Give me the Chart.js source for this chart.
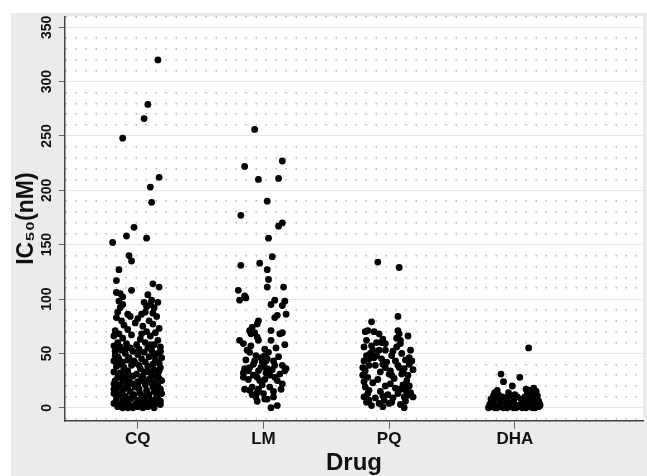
<!DOCTYPE html>
<html>
<head>
<meta charset="utf-8">
<script src="https://cdn.jsdelivr.net/npm/chart.js@4.4.1/dist/chart.umd.min.js"></script>
<style>
  html, body { margin: 0; padding: 0; background: #fff; overflow: hidden; }
  .chart-wrapper { position: absolute; left: 11px; top: 13px; width: 636px; height: 463px; background: #ebebeb; overflow: hidden; }
  .chart-wrapper canvas { position: absolute; left: 0; top: -5px; }
</style>
</head>
<body>
<div class="chart-wrapper"><canvas id="scatterChart" width="636" height="471"></canvas></div>
<script>
// Drug names along the x-axis
const drugs = ["CQ", "LM", "PQ", "DHA"];

// IC50 values (nM), with the horizontal jitter of each dot
const cqValues = [
  320, 279, 266, 248, 212, 203, 189, 166, 158, 156, 152, 140, 135, 127, 117, 114, 111, 108, 106, 104, 105, 102, 99,
  98, 95, 92, 97, 93, 95, 92, 88, 87, 86, 88, 86, 97,
  83, 80, 84, 82, 80, 84, 76, 78, 75, 77, 73, 71, 72, 70, 68,
  66, 64, 67, 63, 66, 62, 60, 59, 58, 60, 58, 56, 56, 55, 55, 57, 68, 69,
  52, 53, 50, 52, 49, 51, 53, 50, 47, 46, 45, 47, 44, 46, 43, 42, 41, 42, 40, 41, 40, 44, 54, 52,
  38, 37, 39, 36, 38, 35, 37, 33, 32, 34, 31, 33, 30, 31, 28, 27, 29, 27, 26, 28, 25, 25, 24, 24, 34, 30,
  22, 21, 20, 22, 21, 23, 20, 17, 16, 15, 17, 16, 15, 17, 13, 12, 11, 12, 11, 12, 10, 18, 19, 13,
  8, 7, 8, 7, 6, 7, 8, 4, 3, 4, 3, 4, 3, 4, 3, 0, 0, 0, 1, 0, 1, 0, 1,
  48, 45, 36, 30, 43, 39, 29, 33, 49, 27, 19, 25, 9, 13, 5, 2, 6, 17, 6, 19, 24, 4, 14, 2, 2, 21, 9, 22, 55, 58
];
const cqJitter = [
  0.16, 0.08, 0.05, -0.12, 0.17, 0.10, 0.11, -0.03, -0.09, 0.07, -0.20, -0.07, -0.05, -0.15, -0.17, 0.12, 0.17, -0.05, -0.17, 0.08, -0.14, -0.12, 0.11,
  -0.15, -0.12, -0.14, 0.05, 0.07, 0.10, 0.13, 0.06, 0.12, 0.03, -0.16, -0.08, 0.16,
  -0.17, -0.13, -0.06, 0.00, 0.09, 0.15, -0.11, -0.02, 0.04, 0.12, 0.17, -0.18, -0.08, 0.07, -0.15,
  -0.19, -0.12, -0.05, 0.02, 0.10, 0.16, -0.16, -0.09, -0.01, 0.06, 0.13, 0.18, -0.14, -0.06, 0.08, -0.19, 0.03, 0.14,
  -0.18, -0.13, -0.10, -0.04, 0.00, 0.05, 0.11, 0.16, -0.16, -0.07, 0.03, 0.09, 0.14, 0.19, -0.19, -0.12, -0.02, 0.06, 0.12, 0.17, -0.15, -0.08, 0.01, 0.18,
  -0.17, -0.11, -0.05, 0.02, 0.08, 0.13, 0.18, -0.19, -0.14, -0.08, -0.01, 0.05, 0.11, 0.16, -0.16, -0.10, -0.04, 0.03, 0.09, 0.14, 0.19, -0.18, -0.07, 0.00, 0.17, -0.12,
  -0.19, -0.14, -0.09, -0.04, 0.06, 0.11, 0.16, -0.17, -0.12, -0.06, 0.01, 0.07, 0.13, 0.18, -0.19, -0.15, -0.10, -0.03, 0.04, 0.09, 0.15, -0.08, 0.12, 0.19,
  -0.17, -0.12, -0.06, 0.00, 0.05, 0.11, 0.16, -0.19, -0.14, -0.09, -0.02, 0.03, 0.08, 0.14, 0.18, -0.12, -0.08, -0.04, 0.00, 0.04, 0.08, 0.13, -0.16,
  -0.18, -0.15, -0.11, -0.07, -0.03, 0.01, 0.04, 0.09, 0.13, 0.17, -0.16, -0.12, -0.05, 0.02, 0.07, 0.12, 0.18, -0.19, -0.10, -0.02, 0.05, 0.10, 0.15, -0.13, -0.06, 0.00, 0.06, 0.14, -0.09, 0.10
];

const lmValues = [
  256, 222, 227, 210, 211, 190, 177, 170, 167, 156, 139, 131, 133, 127, 118, 111, 111, 108, 103, 101, 99, 99, 98,
  95, 94, 85, 86, 83,
  80, 77, 74, 71, 68, 69, 65, 62, 62, 59, 71, 68, 69, 62, 58, 54, 51,
  46, 48, 45, 42, 43, 39, 43, 40,
  36, 34, 32, 37, 34, 37, 32, 36, 39, 34, 36,
  28, 25, 26, 30, 28, 25,
  17, 19, 16, 17, 14, 22, 17,
  6, 8, 8, 10, 0, 2,
  53, 57, 48, 40, 51, 55, 44, 30, 43, 35, 26, 21, 19, 31, 12, 13, 28, 47, 10, 15
];
const lmJitter = [
  -0.07, -0.15, 0.15, -0.04, 0.12, 0.03, -0.18, 0.15, 0.12, 0.04, 0.07, -0.18, -0.03, 0.03, 0.04, 0.03, 0.16, -0.20, -0.15, -0.14, -0.19, 0.09, 0.17,
  0.06, 0.15, 0.11, 0.18, 0.09,
  -0.04, -0.05, -0.09, -0.11, -0.10, -0.07, -0.05, -0.04, -0.19, -0.16, 0.06, 0.13, 0.15, 0.06, 0.17, 0.01, -0.11,
  -0.02, 0.01, 0.03, -0.01, 0.08, 0.09, -0.07, -0.08,
  -0.15, -0.12, -0.16, -0.11, -0.04, -0.02, 0.02, 0.03, 0.15, 0.17, 0.18,
  -0.05, -0.03, 0.01, 0.05, 0.09, 0.11,
  -0.15, -0.09, -0.11, -0.04, -0.05, 0.15, 0.14,
  -0.05, 0.01, 0.03, 0.08, 0.06, 0.11,
  -0.13, -0.10, -0.06, 0.00, 0.04, 0.10, -0.14, -0.08, 0.02, 0.07, -0.12, -0.01, 0.05, 0.13, -0.09, 0.00, -0.16, 0.12, -0.06, 0.08
];

const pqValues = [
  134, 129, 84, 79, 71, 70, 70, 68, 71, 68, 62, 59, 63, 60, 59,
  56, 53, 53, 53, 50, 46, 53, 46, 43, 45, 48, 43, 39,
  37, 34, 39, 40, 37, 34, 37, 36,
  30, 28, 24, 31, 30, 33, 30, 40,
  19, 16, 20, 22, 17, 16, 14, 11,
  10, 7, 11, 7, 4, 5, 10, 10,
  1, 0, 4,
  62, 57, 48, 45, 42, 52, 56, 50, 44, 43, 48, 39, 33, 27, 31, 25, 35, 23, 26, 18, 21, 20, 13, 9, 12, 13, 6, 2, 15, 9, 3, 5, 64, 66, 60
];
const pqJitter = [
  -0.09, 0.08, 0.07, -0.14, -0.17, -0.19, -0.12, -0.08, 0.07, 0.08, 0.09, 0.09, -0.05, -0.06, -0.03,
  -0.20, -0.13, -0.08, -0.03, -0.15, -0.12, 0.17, 0.16, -0.20, -0.16, 0.02, 0.05, 0.07,
  -0.21, -0.19, -0.16, -0.05, -0.03, 0.01, 0.08, 0.12,
  -0.21, -0.17, -0.20, 0.00, 0.02, 0.11, 0.15, 0.16,
  -0.19, -0.16, -0.03, 0.01, 0.09, 0.13, 0.17, 0.14,
  -0.20, -0.16, -0.05, -0.04, 0.00, 0.02, 0.12, 0.19,
  -0.05, 0.12, -0.08,
  -0.18, -0.14, -0.10, -0.06, -0.02, 0.03, 0.06, 0.10, 0.13, 0.18, -0.18, -0.11, -0.07, 0.04, 0.10, 0.14, 0.19, -0.13, -0.09, 0.05, 0.11, 0.16, -0.17, -0.11, -0.01, 0.07, 0.13, -0.14, -0.07, 0.03, 0.09, -0.18, 0.06, 0.15, -0.10
];

const dhaValues = [
  55, 31, 28, 24, 20, 16, 13, 14, 17, 16, 13,
  0, 1, 0, 0, 1, 0, 0, 1, 0, 0, 1, 0, 0, 1, 0, 0, 1,
  3, 4, 2, 3, 4, 3, 2, 4, 3, 2, 3, 4, 2, 3, 4, 3, 2,
  8, 11, 9, 12, 6, 7, 14, 10,
  9, 11, 7, 10, 8, 6, 12,
  10, 13, 9, 12, 8, 11, 6, 15, 18, 16, 7, 3, 5
];
const dhaJitter = [
  0.11, -0.11, 0.04, -0.09, -0.02, -0.14, -0.15, -0.05, 0.09, 0.13, 0.16,
  -0.21, -0.19, -0.16, -0.14, -0.11, -0.09, -0.06, -0.04, -0.01, 0.01, 0.04, 0.06, 0.09, 0.11, 0.14, 0.16, 0.19,
  -0.20, -0.17, -0.15, -0.12, -0.10, -0.07, -0.05, -0.02, 0.00, 0.03, 0.05, 0.08, 0.10, 0.13, 0.15, 0.18, 0.20,
  -0.19, -0.17, -0.15, -0.13, -0.18, -0.12, -0.16, -0.10,
  -0.07, -0.04, -0.01, 0.02, 0.05, -0.06, 0.00,
  0.08, 0.10, 0.12, 0.14, 0.16, 0.18, 0.19, 0.17, 0.15, 0.12, 0.09, 0.20, 0.13
];

// category i sits at x = i + 1, each dot shifted by its jitter
const toPoints = (slot, jitter, values) =>
  values.map((v, i) => ({ x: slot + jitter[i], y: v }));

const series = [
  [cqJitter, cqValues],
  [lmJitter, lmValues],
  [pqJitter, pqValues],
  [dhaJitter, dhaValues],
];

// white plot area on the grey page
const plotBackground = {
  id: "plotBackground",
  beforeDraw(chart) {
    const { ctx, chartArea: a } = chart;
    ctx.save();
    ctx.fillStyle = "#ffffff";
    ctx.fillRect(a.left, a.top, a.right - a.left, a.bottom - a.top);
    ctx.restore();
  },
};

const isMajor = (ctx) => ctx.tick && ctx.tick.value % 50 === 0;
const boldFont = (size) => ({ family: "Liberation Sans, Arial, sans-serif", size, weight: "bold" });

new Chart(document.getElementById("scatterChart"), {
  type: "scatter",
  data: {
    datasets: series.map(([jitter, values], i) => ({
      label: drugs[i],
      data: toPoints(i + 1, jitter, values),
      backgroundColor: "#000000",
      borderWidth: 0,
      pointRadius: 3.4,
      pointHoverRadius: 3.4,
    })),
  },
  options: {
    responsive: false,
    animation: false,
    events: [],
    layout: { padding: { left: 0, right: 4, top: 0, bottom: 1 } },
    plugins: {
      legend: { display: false },
      tooltip: { enabled: false },
    },
    scales: {
      x: {
        type: "linear",
        min: 0.42,
        max: 5.02,
        afterBuildTicks: (scale) => {
          scale.ticks = drugs.map((d, i) => ({ value: i + 1 }));
        },
        ticks: {
          callback: (value) => drugs[Math.round(value) - 1] || "",
          font: boldFont(17),
          color: "#111111",
          padding: 0,
          maxRotation: 0,
          autoSkip: false,
        },
        grid: { drawOnChartArea: false, tickLength: 8, tickColor: "#666666" },
        border: { color: "#444444", width: 1.5 },
        title: {
          display: true,
          text: "Drug",
          font: boldFont(24),
          color: "#111111",
          padding: { top: 0, bottom: 0 },
        },
      },
      y: {
        min: -12,
        max: 360,
        ticks: {
          stepSize: 10,
          autoSkip: false,
          includeBounds: false,
          minRotation: 90,
          maxRotation: 90,
          crossAlign: "center",
          callback: (value) => (value % 50 === 0 ? value : ""),
          font: boldFont(14),
          color: "#111111",
          padding: 0,
        },
        grid: {
          color: (ctx) => (isMajor(ctx) ? "#e6e6e6" : "#b4b4b4"),
          lineWidth: (ctx) => (isMajor(ctx) ? 1 : 1.5),
          tickLength: 6,
          tickColor: (ctx) => (isMajor(ctx) ? "#666666" : "rgba(0,0,0,0)"),
        },
        border: {
          color: "#444444",
          width: 1.5,
          dash: (ctx) => (ctx.type === "tick" && !isMajor(ctx) ? [1.5, 8.5] : []),
        },
        title: {
          display: true,
          text: "IC\u2085\u2080(nM)",
          font: boldFont(23),
          color: "#111111",
          padding: { top: 1.5, bottom: 2 },
        },
      },
    },
  },
  plugins: [plotBackground],
});
</script>
</body>
</html>
